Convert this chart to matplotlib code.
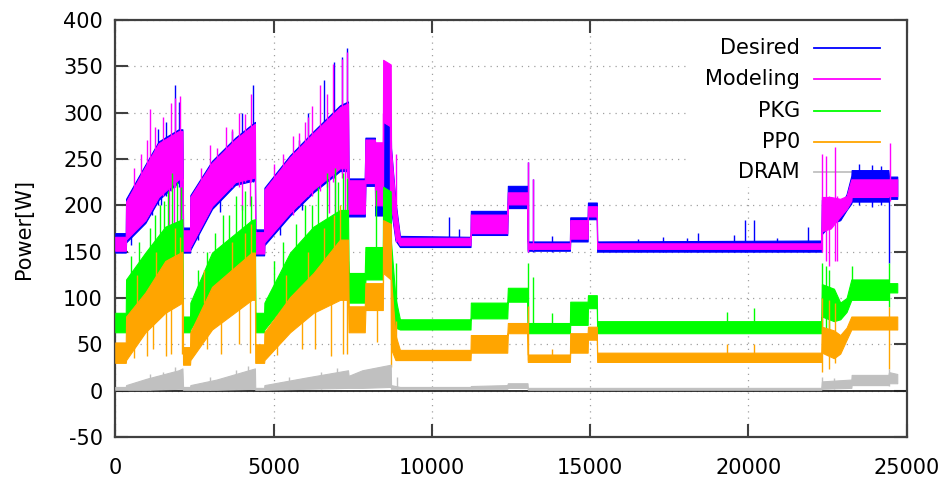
import numpy as np
import matplotlib
matplotlib.use("Agg")
import matplotlib.pyplot as plt
from matplotlib.patches import Rectangle

# --- data: envelope of each trace (x, low, high) ---
des_x  = [0, 330, 340, 950, 1370, 2000, 2120, 2140, 2360, 2370, 3055, 3790, 4410, 4420, 4700,
          4710, 5520, 6260, 7100, 7350, 7370, 7880, 7900, 8200, 8210, 8450, 8460, 8700, 8710,
          8850, 8990, 11220, 11230, 12380, 12400, 13020, 13030, 14360, 14370, 14920, 14930,
          15210, 15220, 22300, 22320, 22600, 22900, 23100, 23250, 23260, 24420, 24440, 24700]
des_lo = [149, 149, 160, 181, 206, 225, 225, 149, 149, 152, 196, 222, 227, 146, 146,
          157, 189, 214, 237, 237, 188, 188, 221, 221, 189, 189, 196, 196, 196,
          162, 155, 155, 168, 168, 197, 197, 151, 151, 161, 161, 185,
          185, 150, 150, 169, 180, 184, 195, 202, 204, 204, 207, 207]
des_hi = [170, 170, 207, 244, 269, 282, 282, 176, 176, 211, 248, 273, 290, 174, 174,
          219, 254, 280, 308, 312, 229, 229, 273, 273, 243, 243, 290, 290, 262,
          204, 167, 166, 194, 194, 221, 221, 161, 161, 187, 187, 203,
          203, 161, 162, 206, 202, 198, 212, 232, 238, 238, 231, 231]

mod_x  = des_x
mod_lo = [151, 151, 163, 184, 209, 228, 228, 151, 151, 155, 199, 225, 230, 148, 148,
          160, 192, 217, 240, 240, 191, 191, 224, 224, 200, 200, 290, 285, 200,
          165, 157, 157, 170, 170, 201, 201, 153, 153, 164, 164, 188,
          188, 153, 153, 172, 175, 188, 196, 205, 209, 209, 210, 210]
mod_hi = [166, 166, 204, 242, 267, 280, 280, 173, 173, 209, 246, 271, 288, 171, 171,
          217, 252, 278, 306, 310, 227, 227, 271, 271, 268, 268, 357, 352, 260,
          200, 165, 165, 190, 190, 214, 214, 159, 159, 184, 184, 199,
          199, 159, 159, 209, 209, 207, 210, 228, 228, 228, 228, 228]

pkg_x  = [0, 330, 340, 950, 1580, 2120, 2140, 2360, 2370, 3055, 4310, 4410, 4420, 4700, 4710,
          5520, 6260, 7100, 7350, 7370, 7880, 7900, 8450, 8460, 8700, 8710, 8850, 8990, 11220,
          11230, 12380, 12400, 13020, 13030, 14360, 14370, 14920, 14930, 15210, 15220, 22300,
          22320, 22700, 22900, 23100, 23250, 24420, 24440, 24700]
pkg_lo = [63, 63, 80, 100, 120, 130, 63, 63, 66, 105, 140, 140, 63, 63, 66,
          100, 120, 140, 140, 95, 95, 120, 120, 177, 170, 110, 68, 66, 66,
          78, 78, 96, 96, 62, 62, 71, 71, 89, 89, 62, 62,
          80, 75, 77, 85, 98, 98, 106, 106]
pkg_hi = [84, 84, 120, 149, 177, 185, 80, 80, 95, 149, 184, 185, 84, 84, 95,
          149, 177, 195, 195, 127, 127, 155, 155, 220, 215, 160, 100, 77, 77,
          95, 95, 111, 111, 73, 73, 96, 96, 103, 103, 75, 75,
          115, 110, 95, 100, 120, 120, 116, 116]

pp0_x  = pkg_x
pp0_lo = [30, 30, 33, 63, 84, 95, 28, 28, 33, 66, 98, 98, 30, 30, 33,
          63, 84, 98, 98, 63, 63, 87, 87, 127, 120, 45, 33, 33, 33,
          41, 41, 62, 62, 31, 31, 41, 41, 55, 55, 31, 31,
          41, 35, 40, 55, 66, 66, 66, 66]
pp0_hi = [52, 52, 80, 106, 140, 150, 47, 47, 63, 112, 149, 149, 50, 50, 63,
          101, 127, 163, 163, 91, 91, 116, 116, 184, 180, 120, 60, 44, 44,
          60, 60, 73, 73, 39, 39, 62, 62, 69, 69, 41, 41,
          69, 65, 60, 68, 80, 80, 80, 80]

dram_x  = [0, 330, 340, 1000, 2000, 2120, 2140, 2360, 2370, 3200, 4410, 4420, 4700, 4710,
           6000, 7350, 7370, 7800, 8700, 8710, 8990, 11220, 11230, 12380, 12400, 13020,
           13030, 22300, 22320, 23250, 23260, 24420, 24440, 24700]
dram_lo = [1, 1, 1, 1, 2, 2, 1, 1, 1, 1, 2, 1, 1, 1,
           2, 3, 3, 3, 4, 2, 2, 2, 2, 2, 3, 3,
           1, 1, 2, 3, 6, 6, 8, 8]
dram_hi = [4, 4, 6, 13, 22, 24, 4, 4, 6, 12, 24, 3, 3, 6,
           14, 22, 16, 22, 28, 6, 4, 4, 5, 6, 8, 8,
           3, 3, 10, 12, 17, 17, 20, 18]

# --- individual spikes (x, from, to) ---
des_sx  = [1350, 1600, 1900, 2000, 3700, 4000, 4350, 5800, 6100, 6600, 6900, 7150, 7310,
           10530, 10870, 13790, 18060, 18420, 19530, 19900, 20160, 21890, 13050, 13180, 24440,
           500, 1150, 1450, 2600, 3300, 5200, 5900, 16500, 17300, 20900, 23500, 23900, 24200]
des_sa  = [200, 210, 220, 220, 220, 225, 225, 205, 220, 230, 230, 235, 235,
           155, 155, 150, 150, 150, 150, 150, 150, 150, 150, 150, 138,
           157, 190, 200, 163, 193, 168, 195, 150, 150, 150, 200, 198, 200]
des_sb  = [282, 290, 330, 312, 280, 300, 330, 270, 300, 335, 355, 360, 370,
           187, 174, 167, 165, 170, 168, 184, 184, 177, 247, 228, 232,
           175, 200, 215, 185, 210, 185, 210, 164, 166, 165, 245, 244, 242]

mod_sx  = [1100, 1250, 1500, 1750, 1900, 2050, 1700, 1850, 2080, 3000, 3500, 3900, 4100,
           4300, 4000, 4250, 5600, 6000, 6200, 6470, 6700, 6890, 7150, 7310, 6750, 6950,
           7250, 8470, 8690, 8860, 13050, 13180, 22330, 22460, 22550, 22740, 22800, 24480,
           600, 800, 1000, 2700, 3200, 3700, 5000, 5300, 5800, 6100]
mod_sa  = [200, 205, 210, 215, 220, 170, 165, 170, 163, 200, 215, 220, 225,
           225, 195, 199, 190, 210, 210, 215, 220, 225, 230, 230, 192, 192,
           192, 198, 198, 160, 150, 152, 150, 140, 134, 140, 140, 205,
           190, 195, 200, 180, 205, 220, 175, 185, 200, 210]
mod_sb  = [304, 285, 295, 310, 316, 318, 230, 230, 230, 265, 285, 300, 298,
           320, 230, 230, 275, 290, 307, 330, 320, 353, 358, 365, 240, 240,
           240, 300, 300, 255, 247, 228, 255, 253, 210, 263, 210, 267,
           240, 255, 270, 240, 262, 282, 245, 255, 278, 295]

pkg_sx  = [1400, 1650, 1800, 1950, 2080, 3400, 3800, 4100, 4300, 6000, 6400, 6700, 6950,
           7200, 7330, 8250, 8880, 13050, 13180, 13790, 19320, 20160, 22330, 22460, 22560,
           23270, 24440, 500, 750, 1100, 1250, 1550, 2600, 2900, 3150, 3600, 4000,
           5000, 5300, 5700, 6200, 7050]
pkg_sa  = [120, 130, 135, 135, 120, 120, 140, 140, 140, 130, 140, 150, 150,
           150, 150, 140, 80, 70, 70, 65, 64, 64, 70, 60, 65,
           100, 90, 100, 110, 125, 130, 140, 80, 100, 120, 130, 145,
           90, 100, 120, 130, 150]
pkg_sb  = [200, 215, 235, 225, 220, 190, 210, 215, 210, 200, 220, 235, 240,
           235, 230, 217, 138, 138, 123, 84, 85, 89, 138, 135, 130,
           134, 138, 145, 160, 175, 190, 205, 130, 150, 170, 190, 200,
           140, 160, 180, 200, 225]

pp0_sx  = [1000, 1600, 1750, 2050, 3350, 4250, 4300, 6300, 6800, 7200, 6900, 7100, 8280,
           8720, 8880, 13050, 13790, 19320, 20160, 22330, 22560, 22740, 24440,
           700, 1300, 1900, 2800, 3700, 4100, 5400, 6100, 6600,
           600, 1200, 2100, 2900, 3900, 5100, 5900, 7320]
pp0_sa  = [37, 37, 40, 120, 40, 41, 130, 45, 37, 40, 140, 150, 52,
           25, 33, 33, 31, 31, 31, 20, 23, 30, 23,
           90, 110, 130, 95, 120, 125, 90, 110, 130,
           35, 45, 40, 45, 50, 38, 45, 40]
pp0_sb  = [80, 100, 100, 166, 90, 110, 180, 100, 120, 120, 190, 200, 100,
           120, 75, 91, 45, 50, 50, 100, 98, 95, 90,
           125, 150, 175, 130, 160, 170, 125, 150, 175,
           70, 90, 110, 90, 100, 70, 90, 120]

dram_sx = [1100, 1500, 1900, 3000, 3800, 4200, 5500, 6500, 7000, 8900, 22330, 22700, 24440]
dram_sa = [1, 2, 2, 1, 2, 2, 2, 2, 3, 2, 2, 2, 5]
dram_sb = [18, 20, 26, 15, 22, 27, 15, 20, 24, 15, 15, 14, 23]

labels = ["Desired", "Modeling", "PKG", "PP0", "DRAM"]
colors = ["#0000ff", "#ff00ff", "#00ff00", "#ffa500", "#c0c0c0"]

plt.rcParams["font.family"] = "DejaVu Sans"
plt.rcParams["axes.unicode_minus"] = False

fig = plt.figure(figsize=(9.46, 4.8), dpi=100)
ax = fig.add_axes([0.1219, 0.0896, 0.8366, 0.8688])

series = [
    (des_x, des_lo, des_hi, des_sx, des_sa, des_sb),
    (mod_x, mod_lo, mod_hi, mod_sx, mod_sa, mod_sb),
    (pkg_x, pkg_lo, pkg_hi, pkg_sx, pkg_sa, pkg_sb),
    (pp0_x, pp0_lo, pp0_hi, pp0_sx, pp0_sa, pp0_sb),
    (dram_x, dram_lo, dram_hi, dram_sx, dram_sa, dram_sb),
]

for k, (x, lo, hi, sx, sa, sb) in enumerate(series):
    z = 3 + k
    ax.fill_between(x, lo, hi, color=colors[k], lw=0.8, edgecolor=colors[k], zorder=z)
    ax.vlines(sx, sa, sb, color=colors[k], lw=1.0, zorder=z)

ax.set_xlim(0, 25000)
ax.set_ylim(-50, 400)
ax.set_xticks(np.arange(0, 25001, 5000))
ax.set_yticks(np.arange(-50, 401, 50))

# gnuplot style grid, hidden behind the key box
ax.grid(True, color="#a0a0a0", lw=0.9, linestyle=(0, (1, 4)), zorder=0.5)
ax.set_axisbelow(True)
ax.axhline(0, color="#222222", lw=1.3, zorder=2.5)

for sp in ax.spines.values():
    sp.set_color("#404040")
    sp.set_linewidth(1.6)
ax.tick_params(axis="both", direction="in", length=9.5, width=1.5, color="#404040",
               top=True, right=True, labelsize=15)
ax.tick_params(axis="x", pad=15)
ax.tick_params(axis="y", pad=9)

fig.text(0.0254, 0.523, "Power[W]", rotation=90, ha="center", va="center", fontsize=15)

# key, right aligned text with sample line after it
ax.add_patch(Rectangle((0.726, 0.5995), 0.274, 0.4005, transform=ax.transAxes,
                       facecolor="white", edgecolor="none", zorder=1))
key_y = [0.9329, 0.8585, 0.7818, 0.7074, 0.6355]
for k, lab in enumerate(labels):
    ax.text(0.8652, key_y[k], lab, transform=ax.transAxes, ha="right", va="center",
            fontsize=15, zorder=10)
    ax.plot([0.8827, 0.9662], [key_y[k], key_y[k]], transform=ax.transAxes,
            color=colors[k], lw=1.3, zorder=2)

fig.savefig("out.png", dpi=100)
